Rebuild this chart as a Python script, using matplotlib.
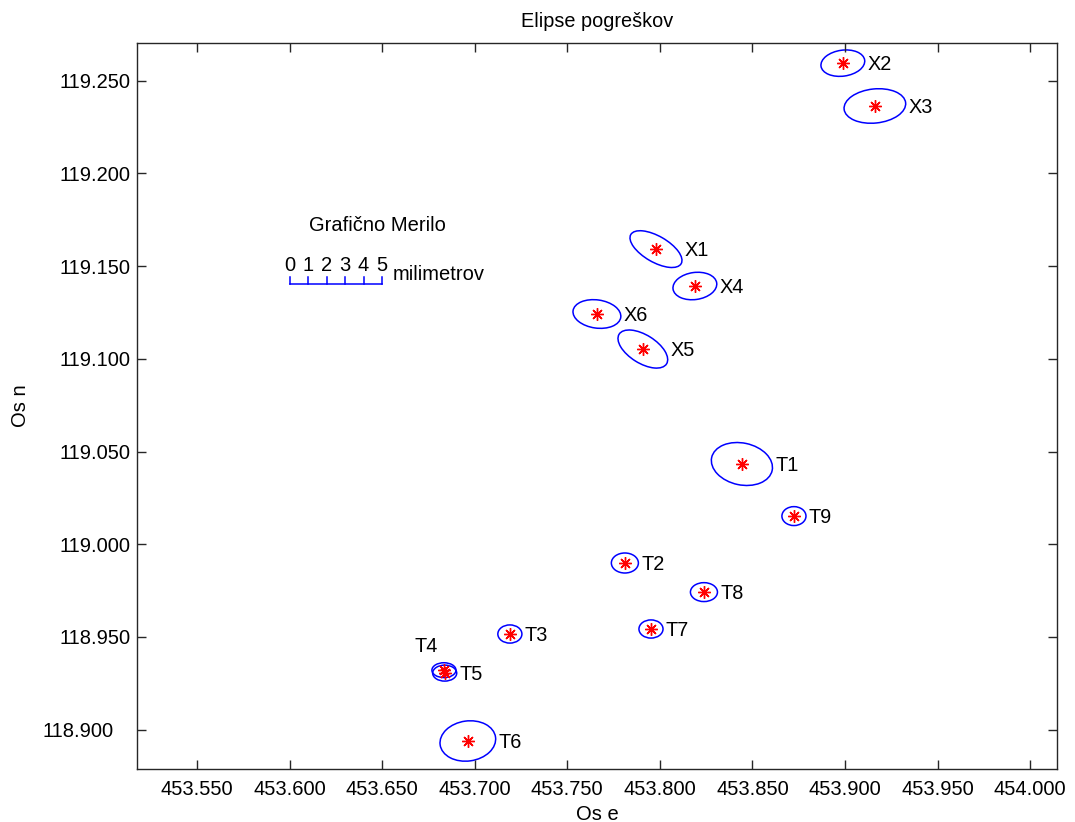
import numpy as np
import matplotlib
matplotlib.use("Agg")
import matplotlib.pyplot as plt
from matplotlib.patches import Ellipse

# error ellipses of the network points (east, north, semi axes already scaled for drawing)
names = ["X2", "X3", "X1", "X4", "X6", "X5", "T1", "T9", "T2", "T8", "T7", "T3", "T4", "T5", "T6"]
east = [453.8988, 453.9161, 453.7979, 453.8189, 453.7660, 453.7908, 453.8443, 453.8724,
        453.7811, 453.8238, 453.7952, 453.7190, 453.6834, 453.6838, 453.6963]
north = [119.2595, 119.2364, 119.1592, 119.1393, 119.1242, 119.1053, 119.0433, 119.0152,
         118.9899, 118.9742, 118.9543, 118.9516, 118.9321, 118.9305, 118.8939]
semi_a = [0.0119, 0.0167, 0.0157, 0.0119, 0.0130, 0.0151, 0.0167, 0.0065,
          0.0073, 0.0073, 0.0065, 0.0065, 0.0065, 0.0065, 0.0151]
semi_b = [0.0070, 0.0092, 0.0070, 0.0073, 0.0076, 0.0076, 0.0113, 0.0051,
          0.0054, 0.0051, 0.0049, 0.0049, 0.0040, 0.0043, 0.0108]
theta = [8, 6, -30, 8, -8, -32, -12, 0, 0, 0, 0, 0, 0, 0, 8]

x_ticks = [453.55, 453.60, 453.65, 453.70, 453.75, 453.80, 453.85, 453.90, 453.95, 454.00]
y_ticks = [118.90, 118.95, 119.00, 119.05, 119.10, 119.15, 119.20, 119.25]

# graphic scale: 0..5 mm drawn as 0..0.05 in map units
scale_mm = [0, 1, 2, 3, 4, 5]
scale_x0 = 453.600
scale_y0 = 119.1402
mm_unit = 0.01

plt.rcParams["font.family"] = ["Liberation Sans", "DejaVu Sans"]
plt.rcParams["font.size"] = 14.5

fig = plt.figure(figsize=(10.75, 8.22), dpi=100)
ax = fig.add_axes([0.1277, 0.0645, 0.983 - 0.1277, 0.9473 - 0.0645])

for i in range(len(names)):
    ax.add_patch(Ellipse((east[i], north[i]), 2 * semi_a[i], 2 * semi_b[i], angle=theta[i],
                         fill=False, edgecolor="#0000ff", lw=1.1))
    ax.plot(east[i], north[i], marker=(8, 2, 0), color="red", ms=9, mew=1.0, linestyle="None")

    t = np.radians(theta[i])
    half_w = np.sqrt((semi_a[i] * np.cos(t)) ** 2 + (semi_b[i] * np.sin(t)) ** 2)
    if names[i] == "T4":
        ax.text(east[i] - 0.0035, north[i] + 0.0075, names[i], ha="right", va="bottom",
                fontsize=14.3)
    else:
        ax.text(east[i] + half_w + 0.0015, north[i] - 0.0008, names[i], ha="left",
                va="center", fontsize=14.3)

# scale bar
bar_x = [scale_x0 + m * mm_unit for m in scale_mm]
ax.plot([bar_x[0], bar_x[-1]], [scale_y0, scale_y0], color="#0000ff", lw=1.1)
for m, bx in zip(scale_mm, bar_x):
    ax.plot([bx, bx], [scale_y0, scale_y0 + 0.0041], color="#0000ff", lw=1.1)
    ax.text(bx, scale_y0 + 0.0053, str(m), ha="center", va="bottom")
ax.text(bar_x[-1] + 0.0055, scale_y0 + 0.0004, "milimetrov", ha="left", va="bottom")
ax.text(scale_x0 + 0.0105, 119.1668, "Grafično Merilo", ha="left", va="bottom")

ax.set_xlim(453.5178, 454.0143)
ax.set_ylim(118.8788, 119.2702)
ax.set_xticks(x_ticks)
ax.set_yticks(y_ticks)
ax.set_xticklabels(["%.3f" % v for v in x_ticks])
ax.set_yticklabels(["%.3f" % v for v in y_ticks])
ax.tick_params(direction="in", length=6.7, width=1, top=True, right=True, colors="#262626",
               labelcolor="black")
ax.tick_params(axis="x", pad=8)
ax.tick_params(axis="y", pad=5)
ax.yaxis.get_major_ticks()[0].set_pad(17)
for s in ax.spines.values():
    s.set_color("#262626")
    s.set_linewidth(1)

ax.set_title("Elipse pogreškov", fontsize=14.3, pad=12)
ax.set_xlabel("Os e", labelpad=4)
ax.set_ylabel("Os n")
ax.yaxis.set_label_coords(-0.117, 0.5)

fig.savefig("out.png", dpi=100)
